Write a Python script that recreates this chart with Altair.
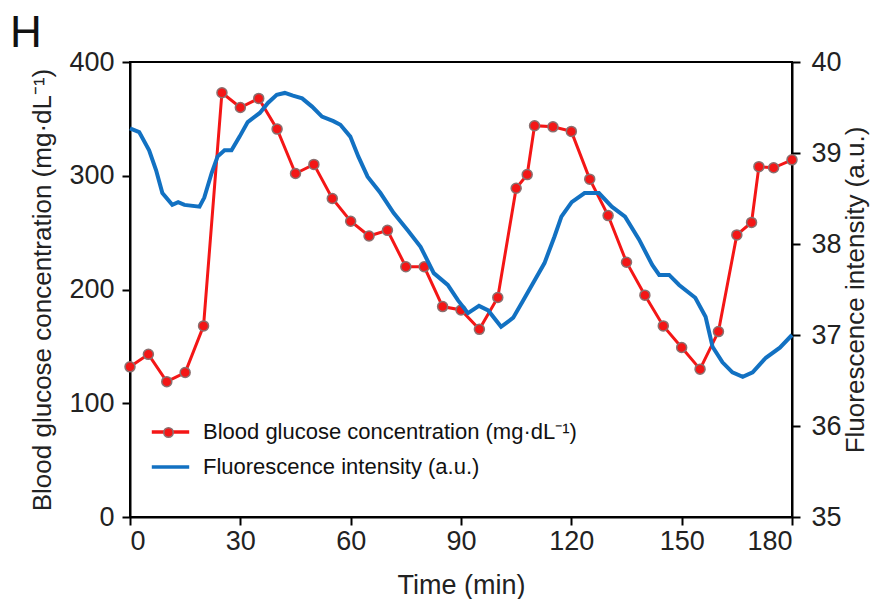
import altair as alt
import pandas as pd

FONT = "Liberation Sans"
RED = "#f41616"
BLUE = "#1271c2"

series_names = ["Blood glucose concentration (mg·dL⁻¹)", "Fluorescence intensity (a.u.)"]

g_time = [0, 5, 10, 15, 20, 25, 30, 35, 40, 45, 50, 55, 60, 65, 70, 75, 80, 85, 90, 95,
          100, 105, 108, 110, 115, 120, 125, 130, 135, 140, 145, 150, 155, 160, 165, 169,
          171, 175, 180]
g_val = [132, 143, 119, 127, 168, 373, 360, 368, 341, 302, 310, 280, 260, 247, 252, 220,
         220, 185, 182, 165, 193, 289, 301, 344, 343, 339, 297, 265, 224, 195, 168, 149,
         130, 163, 248, 259, 308, 307, 314]

f_time = [0, 2.5, 5.2, 7.1, 8.8, 11.5, 13.1, 14.8, 18.9, 20.2, 22.2, 23.8, 25.7, 27.6,
          29.8, 32.0, 35.3, 37.5, 39.9, 42.1, 44.3, 46.8, 49.5, 52.2, 55.3, 57.2, 59.9,
          62.1, 64.6, 68.1, 71.7, 75.5, 79.0, 82.6, 86.4, 89.2, 91.9, 94.9, 97.4, 100.9,
          104.2, 106.9, 110.0, 112.7, 115.4, 117.3, 120.1, 123.6, 127.5, 131.0, 134.6,
          138.4, 142.0, 143.9, 146.6, 149.3, 153.7, 156.5, 158.4, 161.1, 163.8, 166.6,
          169.3, 172.9, 176.7, 180.0]
f_val = [39.27, 39.23, 39.03, 38.81, 38.56, 38.43, 38.46, 38.43, 38.41, 38.51, 38.78,
         38.96, 39.03, 39.03, 39.18, 39.34, 39.44, 39.55, 39.64, 39.66, 39.63, 39.60,
         39.51, 39.40, 39.35, 39.31, 39.18, 38.96, 38.74, 38.56, 38.34, 38.15, 37.97,
         37.68, 37.55, 37.38, 37.24, 37.32, 37.27, 37.09, 37.19, 37.38, 37.60, 37.79,
         38.08, 38.30, 38.46, 38.56, 38.56, 38.41, 38.30, 38.05, 37.77, 37.66, 37.66,
         37.55, 37.41, 37.20, 36.87, 36.70, 36.59, 36.54, 36.59, 36.75, 36.86, 37.00]

x_ticks = [0, 30, 60, 90, 120, 150, 180]
yl_ticks = [0, 100, 200, 300, 400]
yr_ticks = [35, 36, 37, 38, 39, 40]

gdf = pd.DataFrame({"t": g_time, "v": g_val, "series": series_names[0], "pt": "marker"})
fdf = pd.DataFrame({"t": f_time, "v": f_val, "series": series_names[1]})

x_enc = alt.X("t:Q", scale=alt.Scale(domain=[0, 180], nice=False),
              axis=alt.Axis(values=x_ticks, title="Time (min)", titlePadding=18,
                            labelPadding=3))

yl_enc = alt.Y("v:Q", scale=alt.Scale(domain=[0, 400], nice=False),
               axis=alt.Axis(values=yl_ticks, title=series_names[0], orient="left",
                             titlePadding=13, labelPadding=8, titleFontSize=26))
yr_enc = alt.Y("v:Q", scale=alt.Scale(domain=[35, 40], nice=False),
               axis=alt.Axis(values=yr_ticks, title=series_names[1], orient="right",
                             titleAngle=270, titleBaseline="top", titlePadding=1,
                             labelPadding=11, titleFontSize=26))

color_enc = alt.Color("series:N",
                      scale=alt.Scale(domain=series_names, range=[RED, BLUE]),
                      legend=alt.Legend(title=None, orient="none", legendX=20, legendY=360,
                                        symbolType="stroke", symbolSize=1400,
                                        symbolStrokeWidth=3.5, clipHeight=20,
                                        rowPadding=13, padding=0, labelOffset=12,
                                        labelFontSize=22, labelFont=FONT, labelLimit=0,
                                        labelColor="#111"))

fill_enc = alt.Fill("pt:N", scale=alt.Scale(domain=["marker"], range=[RED]),
                    legend=alt.Legend(title=None, orient="none", legendX=33, legendY=365,
                                      symbolType="circle", symbolSize=90,
                                      symbolStrokeColor="#8a7070", symbolStrokeWidth=1.5,
                                      labelExpr="''", padding=0))

g_line = alt.Chart(gdf).mark_line(strokeWidth=3).encode(x=x_enc, y=yl_enc, color=color_enc)
g_pts = alt.Chart(gdf).mark_circle(size=100, opacity=1, stroke="#8a7070",
                                   strokeWidth=1.5).encode(x=x_enc, y=yl_enc, fill=fill_enc)
f_line = alt.Chart(fdf).mark_line(strokeWidth=4).encode(x=x_enc, y=yr_enc, color=color_enc)

left = alt.layer(g_line, g_pts)

chart = alt.layer(left, f_line).resolve_scale(y="independent").properties(
    width=662, height=455,
    padding={"left": 122, "top": 54, "right": 81, "bottom": 82},
    autosize="none",
    title=alt.TitleParams("H", anchor="start", frame="group", fontSize=44,
                          fontWeight="normal", font=FONT, dx=-120, dy=22, offset=14,
                          color="#111"),
).configure_axis(
    labelFont=FONT, labelFontSize=27, labelColor="#222", titleFont=FONT,
    titleFontSize=27, titleFontWeight="normal", titleColor="#222",
    domainColor="black", domainWidth=2, tickColor="black", tickWidth=2,
    tickSize=8, grid=False,
).configure_view(stroke="black", strokeWidth=2)

chart.save("out.html", embed_options={"renderer": "svg", "actions": False})
